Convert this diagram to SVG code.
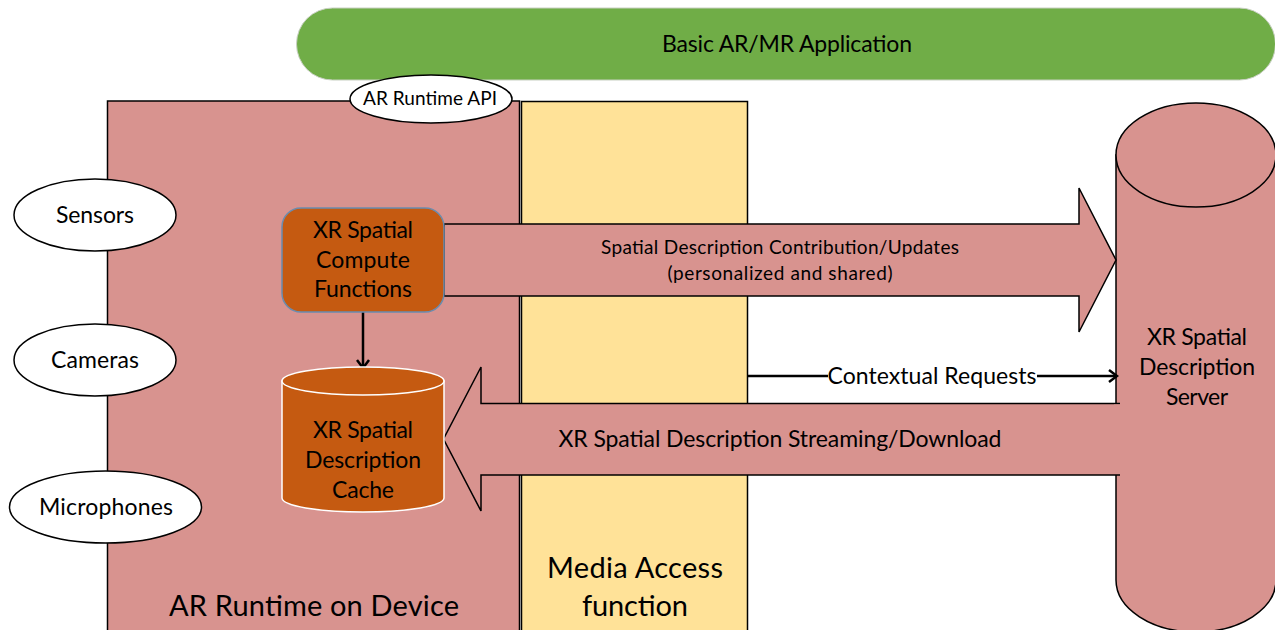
<svg xmlns="http://www.w3.org/2000/svg" width="1275" height="630" viewBox="0 0 1275 630">
<style>
text{font-family:Lato,"Open Sans","Liberation Sans",sans-serif;fill:#000;text-anchor:middle}
.pink{fill:#d8938f;stroke:#000;stroke-width:1.5}
.ell{fill:#fff;stroke:#000;stroke-width:1.5}
.t23{font-size:23px}.t19{font-size:19px}.t29{font-size:29px}
.conn{fill:none;stroke:#000;stroke-width:2.5}
</style>
<defs>
<marker id="open" markerWidth="12" markerHeight="14" refX="10" refY="7" orient="auto" markerUnits="userSpaceOnUse"><path d="M2 1L10 7L2 13" fill="none" stroke="#000" stroke-width="2.5"/></marker>
</defs>
<g id="app"><rect x="296.500" y="8" width="979" height="72" rx="36" fill="#70ad47" stroke="#c8d0c2" stroke-width="1"/><text class="t23" x="787" y="52" textLength="250">Basic AR/MR Application</text></g>
<g id="runtime"><rect class="pink" x="107.500" y="101" width="412" height="560"/><text class="t29" x="314" y="616" textLength="290">AR Runtime on Device</text></g>
<g id="media"><rect x="521.500" y="101.500" width="226" height="560" fill="#ffe298" stroke="#000" stroke-width="1.500"/><text class="t29" x="635" y="578" textLength="176">Media Access</text><text class="t29" x="635" y="616" textLength="106">function</text></g>
<g id="api"><ellipse class="ell" cx="431" cy="99" rx="81" ry="24"/><text class="t19" x="430" y="105" textLength="134">AR Runtime API</text></g>
<g id="sensors"><ellipse class="ell" cx="95" cy="215" rx="81" ry="36"/><text class="t23" x="95" y="223" textLength="78">Sensors</text></g>
<g id="cameras"><ellipse class="ell" cx="95" cy="360" rx="81" ry="36"/><text class="t23" x="95" y="368" textLength="88">Cameras</text></g>
<g id="microphones"><ellipse class="ell" cx="105.500" cy="507" rx="96" ry="36"/><text class="t23" x="106" y="515" textLength="134">Microphones</text></g>
<g id="server"><path class="pink" d="M1116 155V580A80 52 0 0 0 1276 580V155Z"/><ellipse class="pink" cx="1196" cy="155" rx="80" ry="52"/><g class="t23"><text x="1197" y="345" textLength="100">XR Spatial</text><text x="1197" y="375" textLength="116">Description</text><text x="1197" y="405" textLength="62">Server</text></g></g>
<g id="connectors">
<path class="pink" d="M444 224H1079V188L1116 260L1079 332V296H444Z"/>
<path d="M1120 403.500H481V367L443.500 439L481 511V475H1120" class="pink"/>
<rect x="1114" y="404.500" width="8" height="69.500" fill="#d8938f"/>
<path class="conn" d="M748 376H1117" marker-end="url(#open)"/>
<path class="conn" d="M363 312V368" marker-end="url(#open)"/>
<rect x="828" y="364" width="209" height="24" fill="#fff"/>
<text class="t23" x="932" y="384" textLength="209">Contextual Requests</text>
<text class="t19" x="780" y="254" textLength="358">Spatial Description Contribution/Updates</text>
<text class="t19" x="780" y="280" textLength="225">(personalized and shared)</text>
<text class="t23" x="780" y="447" textLength="443">XR Spatial Description Streaming/Download</text>
</g>
<g id="compute"><rect x="282" y="208" width="162" height="104" rx="19" fill="#c55a11" stroke="#6a8caf" stroke-width="1.500"/><g class="t23"><text x="363" y="238" textLength="100">XR Spatial</text><text x="363" y="268" textLength="94">Compute</text><text x="363" y="297" textLength="98">Functions</text></g></g>
<g id="cache"><path d="M282 381V498A81 14 0 0 0 444 498V381Z" fill="#c55a11" stroke="#fff" stroke-width="1.500"/><ellipse cx="363" cy="381" rx="81" ry="14" fill="#c55a11" stroke="#fff" stroke-width="1.500"/><g class="t23"><text x="363" y="438" textLength="100">XR Spatial</text><text x="363" y="468" textLength="116">Description</text><text x="363" y="498" textLength="62">Cache</text></g></g>
</svg>
